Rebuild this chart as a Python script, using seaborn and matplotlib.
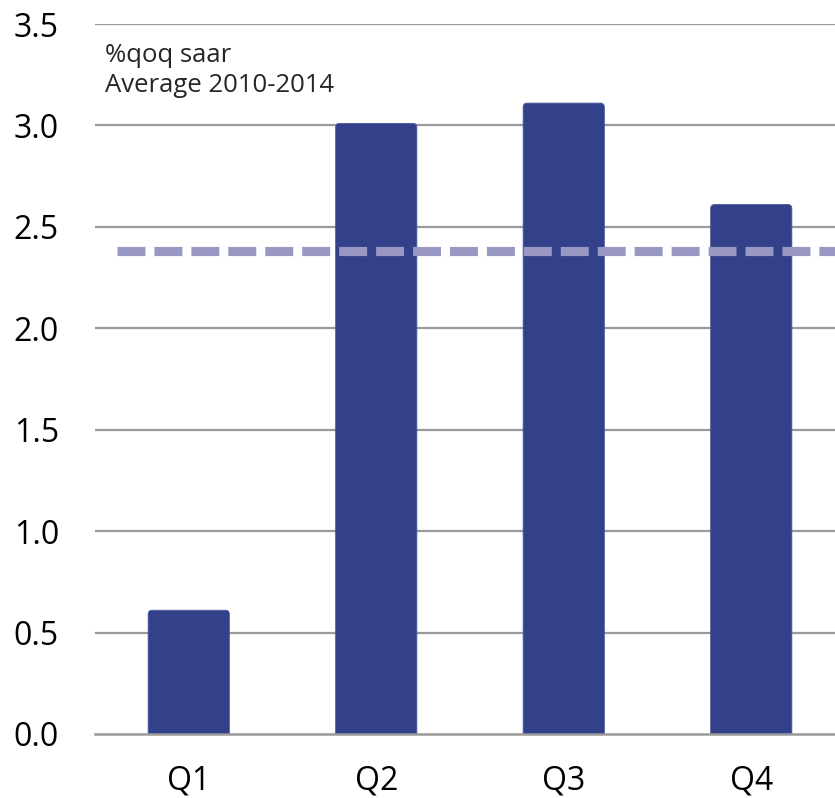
import matplotlib
matplotlib.use("Agg")
import matplotlib.pyplot as plt
from matplotlib.patches import FancyBboxPatch
import seaborn as sns
import pandas as pd
import numpy as np

quarters = ["Q1", "Q2", "Q3", "Q4"]
growth = [0.61, 3.01, 3.11, 2.61]
average_2010_2014 = 2.38
y_ticks = [0.0, 0.5, 1.0, 1.5, 2.0, 2.5, 3.0, 3.5]
note_lines = ["%qoq saar", "Average 2010-2014"]

bar_color = "#32418a"
avg_color = "#9898c2"
grid_color = "#9a9a9a"

sns.set_theme(style="white")
plt.rcParams["font.family"] = ["Open Sans", "DejaVu Sans"]

df = pd.DataFrame({"quarter": quarters, "growth": growth})

fig = plt.figure(figsize=(8.35, 7.98), dpi=100)
W, H = 835, 798
left, bottom, top = 95, 734, 24
ax = fig.add_axes([left / W, (H - bottom) / H, 750 / W, (bottom - top) / H])

sns.barplot(data=df, x="quarter", y="growth", color=bar_color, width=0.433,
            saturation=1, ax=ax, zorder=3, linewidth=0)

ax.set_xlim(-0.5, len(quarters) - 0.5)
ax.set_ylim(y_ticks[0], y_ticks[-1])

# Swap the plain rectangles for ones with softly rounded tops
px_x = 750 / len(quarters)
px_y = (bottom - top) / (y_ticks[-1] - y_ticks[0])
r = 4 / px_x
for p in list(ax.patches):
    x0, y0, w, h = p.get_x(), p.get_y(), p.get_width(), p.get_height()
    ext = 6 / px_y
    rb = FancyBboxPatch((x0, y0 - ext), w, h + ext,
                        boxstyle=f"round,pad=0,rounding_size={r}",
                        mutation_aspect=px_x / px_y,
                        facecolor=bar_color, edgecolor="#4a579a", lw=0.6,
                        zorder=3)
    p.remove()
    ax.add_patch(rb)

ax.set_yticks(y_ticks)
ax.set_yticklabels([f"{v:.1f}" for v in y_ticks], fontsize=23)
for v in y_ticks[1:]:
    ax.axhline(v, color=grid_color, lw=1.6, zorder=1)

# Average line across the quarters
ax.plot([-0.383, len(quarters) - 0.5], [average_2010_2014] * 2, color=avg_color,
        lw=6.6, dashes=(3.05, 0.98), zorder=4, dash_capstyle="butt")

for s in ["left", "right", "top"]:
    ax.spines[s].set_visible(False)
ax.spines["bottom"].set_color(grid_color)
ax.spines["bottom"].set_linewidth(1.8)
ax.spines["bottom"].set_zorder(5)

ax.set_xticks(range(len(quarters)))
ax.set_xticklabels(quarters, fontsize=23)
ax.tick_params(axis="x", length=0, pad=22, colors="black")
ax.set_xticks(np.arange(-0.5, len(quarters), 1.0), minor=True)
ax.tick_params(axis="x", which="minor", length=11, width=1.8, color=grid_color)
ax.tick_params(axis="y", length=0, pad=26, colors="black")
ax.set_xlabel("")
ax.set_ylabel("")

x_note = 10 / 750
ax.text(x_note, (bottom - 62) / (bottom - top), note_lines[0],
        transform=ax.transAxes, fontsize=18.5, va="baseline", ha="left")
ax.text(x_note, (bottom - 92) / (bottom - top), note_lines[1],
        transform=ax.transAxes, fontsize=18.5, va="baseline", ha="left")

fig.savefig("out.png", dpi=100)
